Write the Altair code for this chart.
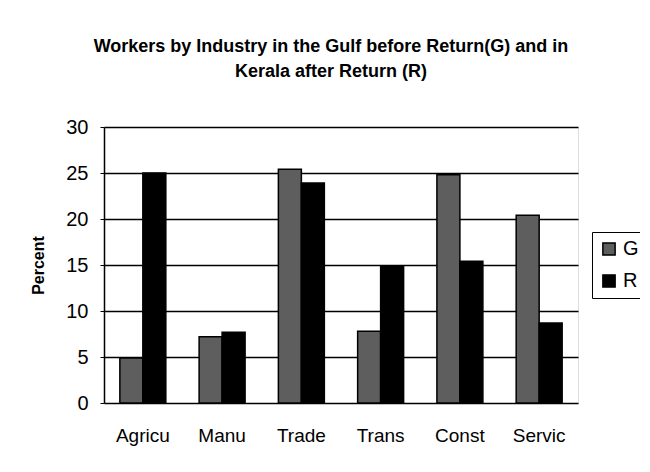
import altair as alt
import pandas as pd

categories = ["Agricu", "Manu", "Trade", "Trans", "Const", "Servic"]
gulf = [4.9, 7.2, 25.4, 7.8, 24.8, 20.4]
kerala = [25.0, 7.7, 23.9, 14.8, 15.4, 8.7]
series = ["G", "R"]

rows = []
for c, g, r in zip(categories, gulf, kerala):
    rows.append({"cat": c, "series": "G", "value": g})
    rows.append({"cat": c, "series": "R", "value": r})
df = pd.DataFrame(rows)

chart = alt.Chart(df).mark_bar(stroke="black", strokeWidth=1.5).encode(
    x=alt.X("cat:N", sort=categories, title=None,
            scale=alt.Scale(paddingInner=0.42, paddingOuter=0.2),
            axis=alt.Axis(labelAngle=0, labelFont="Liberation Sans", labelFontSize=19,
                          labelColor="black", ticks=False, labelPadding=23,
                          domain=False)),
    xOffset=alt.XOffset("series:N", sort=series),
    y=alt.Y("value:Q", title="Percent",
            scale=alt.Scale(domain=[0, 30], nice=False),
            axis=alt.Axis(values=[0, 5, 10, 15, 20, 25, 30], labelFont="Liberation Sans",
                          labelFontSize=20, labelColor="black", grid=True,
                          gridColor="black", gridWidth=1.5, gridOpacity=1,
                          domainColor="black", domainWidth=1.5, tickColor="black",
                          tickSize=4, labelPadding=12,
                          titleFont="Liberation Sans", titleFontSize=16,
                          titleFontWeight="bold", titleColor="black", titlePadding=19)),
    fill=alt.Fill("series:N", sort=series,
                  scale=alt.Scale(domain=series, range=["#5e5e5e", "#000000"]),
                  legend=alt.Legend(title=None, orient="none", legendX=488, legendY=105,
                                    symbolType="square", symbolSize=150,
                                    symbolStrokeColor="black", symbolStrokeWidth=1.5,
                                    labelFont="Liberation Sans", labelFontSize=20,
                                    labelColor="black", rowPadding=12, padding=7,
                                    strokeColor="black")),
).properties(
    width=474,
    height=276,
    title=alt.Title(
        ["Workers by Industry in the Gulf before Return(G) and in",
         "Kerala after Return (R)"],
        font="Liberation Sans", fontSize=18, fontWeight="bold", color="black",
        anchor="middle", offset=36, lineHeight=25, dx=-10),
    autosize=alt.AutoSizeParams(type="none"),
    padding={"left": 96, "top": 119, "right": 62, "bottom": 50},
).configure_view(stroke="black", strokeWidth=1.5).configure_legend(
    strokeDash=[3, 3]).configure(background="white")

chart.save("out.html", embed_options={"renderer": "svg", "actions": False})
